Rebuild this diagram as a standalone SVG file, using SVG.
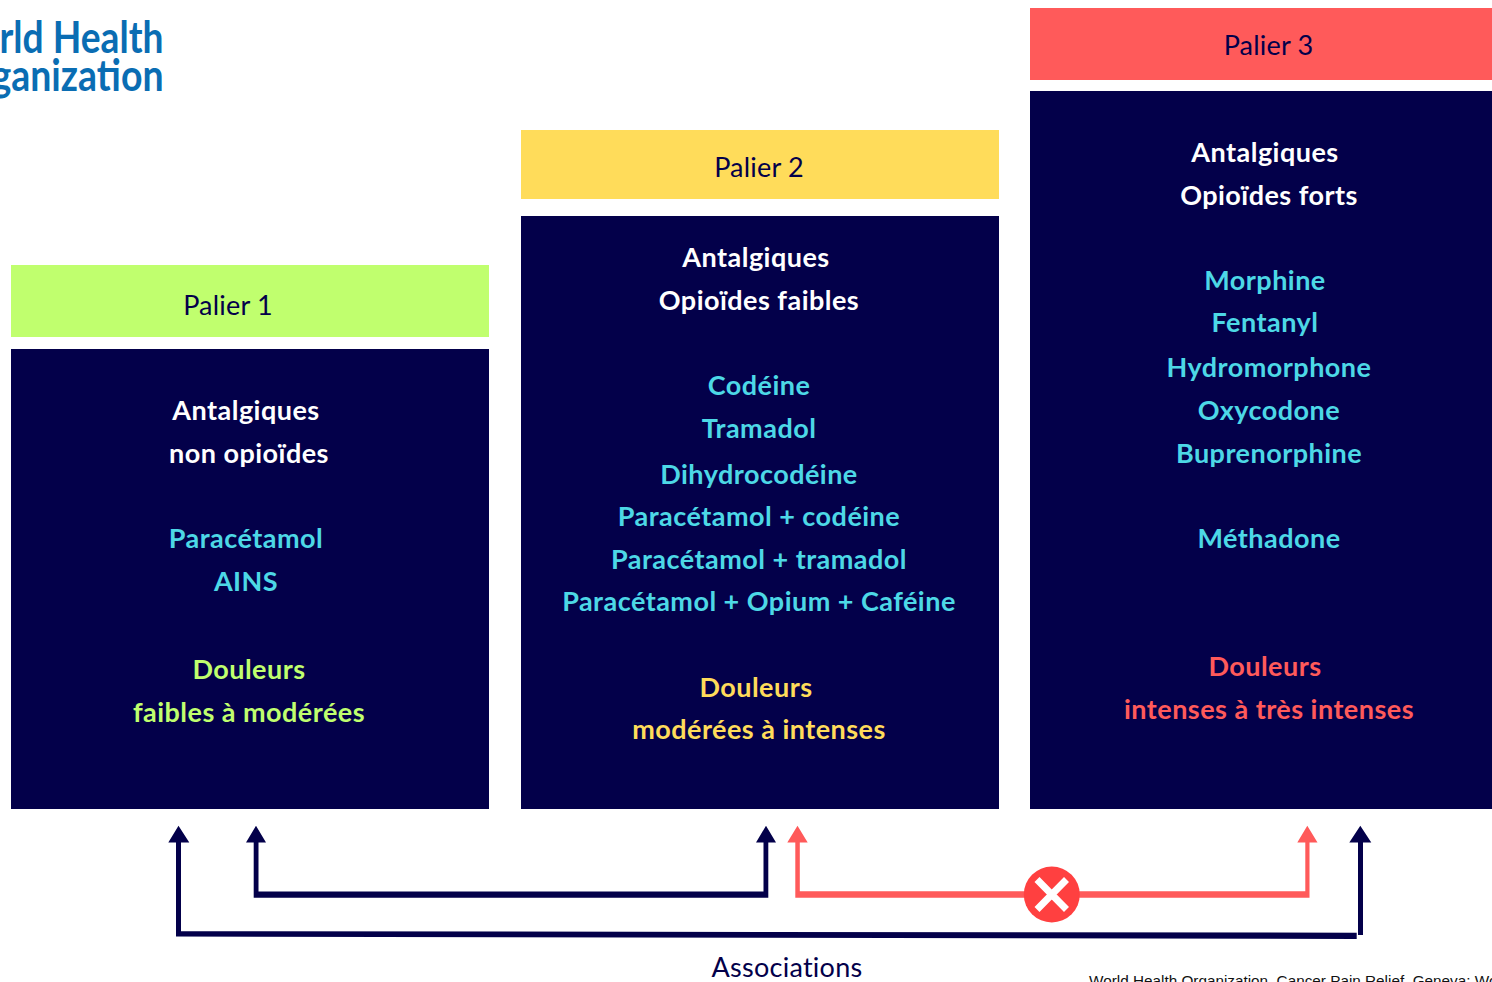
<svg xmlns="http://www.w3.org/2000/svg" width="1492" height="982" viewBox="0 0 1492 982">
<style>
text{font-family:Lato,"Noto Sans",sans-serif;text-anchor:middle}
.h{font-size:27px;fill:#03004a;letter-spacing:.2px}
.t{font-size:27px;font-weight:700;letter-spacing:.47px}
.w{fill:#fff}.c{fill:#4dd8e6}.g{fill:#c0ff6e}.y{fill:#ffdc5a}.r{fill:#ff5a5a}
.box{fill:#03004a}
.n{fill:#03004a}
.p{fill:#ff5a5a}
.who{font-size:43px;font-weight:700;fill:#0a6db3;text-anchor:end}
</style>
<g id="logo">
<text class="who" x="163.500" y="53" textLength="164" lengthAdjust="spacingAndGlyphs">rld Health</text>
<text class="who" x="163.500" y="91" textLength="172" lengthAdjust="spacingAndGlyphs">ganization</text>
</g>
<g id="palier1">
<rect x="11" y="265" width="478" height="72" fill="#c0ff6e"/>
<text class="h" x="228" y="314.500">Palier 1</text>
<rect class="box" x="11" y="349" width="478" height="460"/>
<text class="t w" x="246" y="420">Antalgiques</text>
<text class="t w" x="249" y="463">non opioïdes</text>
<text class="t c" x="246" y="548">Paracétamol</text>
<text class="t c" x="246" y="591">AINS</text>
<text class="t g" x="249" y="679">Douleurs</text>
<text class="t g" x="249" y="722">faibles à modérées</text>
</g>
<g id="palier2">
<rect x="521" y="130" width="478" height="69" fill="#ffdc5a"/>
<text class="h" x="759" y="176.500">Palier 2</text>
<rect class="box" x="521" y="216" width="478" height="593"/>
<text class="t w" x="756" y="267">Antalgiques</text>
<text class="t w" x="759" y="310">Opioïdes faibles</text>
<text class="t c" x="759" y="395">Codéine</text>
<text class="t c" x="759" y="438">Tramadol</text>
<text class="t c" x="759" y="484">Dihydrocodéine</text>
<text class="t c" x="759" y="526">Paracétamol + codéine</text>
<text class="t c" x="759" y="569">Paracétamol + tramadol</text>
<text class="t c" x="759" y="611">Paracétamol + Opium + Caféine</text>
<text class="t y" x="756" y="697">Douleurs</text>
<text class="t y" x="759" y="739">modérées à intenses</text>
</g>
<g id="palier3">
<rect x="1030" y="8" width="462" height="72" fill="#ff5a5a"/>
<text class="h" x="1268.500" y="54.500">Palier 3</text>
<rect class="box" x="1030" y="91" width="462" height="718"/>
<text class="t w" x="1265" y="162">Antalgiques</text>
<text class="t w" x="1269" y="205">Opioïdes forts</text>
<text class="t c" x="1265" y="290">Morphine</text>
<text class="t c" x="1265" y="332">Fentanyl</text>
<text class="t c" x="1269" y="377">Hydromorphone</text>
<text class="t c" x="1269" y="420">Oxycodone</text>
<text class="t c" x="1269" y="463">Buprenorphine</text>
<text class="t c" x="1269" y="548">Méthadone</text>
<text class="t r" x="1265" y="676">Douleurs</text>
<text class="t r" x="1269" y="719">intenses à très intenses</text>
</g>
<g id="connectors">
<path class="n" d="M253.700 842H258.500V891.500H763.500V842H768.300V897.700H253.700Z"/>
<path class="n" d="M246 842.500L256 825.700L266 842.500ZM756 842.500L766 825.700L776 842.500Z"/>
<path class="n" d="M176 842H181V931.200L1356.700 932.700V938.900L176 936.500Z"/>
<path class="n" d="M1358 842H1363V935H1358Z"/>
<path class="n" d="M168.300 842.500L178.500 825.700L189.300 842.500ZM1349.300 842.500L1360.300 825.700L1371.300 842.500Z"/>
<path class="p" d="M795.300 842H799.800V891.200H1305.300V842H1309.500V897.700H795.300Z"/>
<path class="p" d="M787.300 842.500L797.500 825.700L807.700 842.500ZM1297.300 842.500L1307.300 825.700L1317.500 842.500Z"/>
</g>
<g id="interdit">
<circle cx="1051.800" cy="894.500" r="28" fill="#ff4040"/>
<path d="M1037 879.500L1066.500 909.500M1066.500 879.500L1037 909.500" stroke="#fff" stroke-width="7" fill="none"/>
</g>
<text x="787" y="977" style="font-size:27px;fill:#03004a;letter-spacing:.25px">Associations</text>
<text x="1089" y="986" style="font-family:'Liberation Sans',sans-serif;font-size:15.300px;fill:#111;text-anchor:start">World Health Organization. Cancer Pain Relief. Geneva: Wo</text>
</svg>
